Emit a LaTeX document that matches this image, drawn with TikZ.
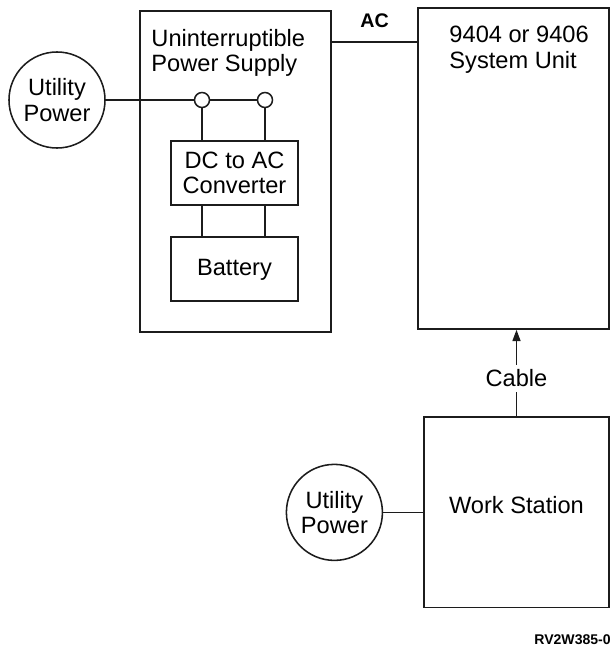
\documentclass[tikz,border=0pt]{standalone}
\usepackage{fontspec}
\setmainfont{Liberation Sans}
\usetikzlibrary{positioning, arrows.meta}
\definecolor{ink}{HTML}{1C1C1C}
\newcommand{\bigtxt}{\fontsize{16.8}{18}\selectfont}
\tikzset{
  unit/.style={draw=ink, line width=1.1pt, inner sep=0pt, align=center,
               font=\bigtxt},
  source/.style={circle, draw=ink, line width=1.1pt, minimum size=2.4cm,
                 inner sep=0pt, align=center, font=\bigtxt},
  joint/.style={circle, draw=ink, line width=1.1pt, minimum size=0.375cm,
                inner sep=0pt},
  wire/.style={draw=ink, line width=1pt},
  feed/.style={wire, -{Triangle[length=2.8mm, width=2mm]}},
}

\begin{document}
\begin{tikzpicture}[x=0.025cm, y=-0.025cm]
  \useasboundingbox (0,0) rectangle (611,650);
  % UPS with converter and battery
  \node[unit, minimum width=4.775cm, minimum height=8.025cm]
    (ups) at (235.5,171.5) {};
  \node[anchor=north west, align=left, inner sep=0pt, font=\bigtxt]
    (upsname) at ([shift={(12,19)}]ups.north west)
    {Uninterruptible\\Power Supply};
  \node[unit, minimum width=3.175cm, minimum height=1.6cm]
    (conv) at (234.5,173) {DC to AC\\Converter};
  \node[unit, minimum width=3.175cm, minimum height=1.6cm,
        text depth=0.1cm, below=0.7625cm of conv] (batt) {Battery};
  \node[joint] (j1) at (202,100) {};
  \node[joint] (j2) at (265,100) {};
  \node[source] (util1) at (57,100) {Utility\\Power};
  % system unit and work station
  \node[unit, minimum width=4.775cm, minimum height=8.025cm]
    (sysu) at (513.5,168.5) {};
  \node[anchor=north west, align=left, inner sep=0pt, font=\bigtxt]
    (sysname) at ([shift={(32,19)}]sysu.north west)
    {9404 or 9406\\System Unit};
  \node[unit, minimum width=4.625cm, minimum height=4.7625cm,
        text depth=0.35cm, below=2.1625cm of sysu.south east,
        anchor=north east] (ws) {Work Station};
  \node[source, left=1cm of ws] (util2) {Utility\\Power};
  % wiring
  \draw[wire] (util1) -- (j1);
  \draw[wire] (j1) -- (j2);
  \draw[wire] (j1) -- (j1 |- conv.north);
  \draw[wire] (j2) -- (j2 |- conv.north);
  \draw[wire] (j1 |- conv.south) -- (j1 |- batt.north);
  \draw[wire] (j2 |- conv.south) -- (j2 |- batt.north);
  \coordinate (acout) at (ups.east |- 0,42);
  \draw[wire] (acout) -- node[above=6.5pt, inner sep=3pt,
    font=\fontsize{14}{16}\selectfont\bfseries] (aclabel) {AC}
    (acout -| sysu.west);
  \draw[feed] (ws.north) -- node[pos=0.44, fill=white, font=\bigtxt]
    (cablelabel) {Cable} (ws.north |- sysu.south);
  \draw[wire] (util2.east) -- (util2.east -| ws.west);
  \node[anchor=east, inner sep=0pt,
        font=\fontsize{10}{12}\selectfont\bfseries]
    (figid) at (611,640) {RV2W385-0};
\end{tikzpicture}
\end{document}
